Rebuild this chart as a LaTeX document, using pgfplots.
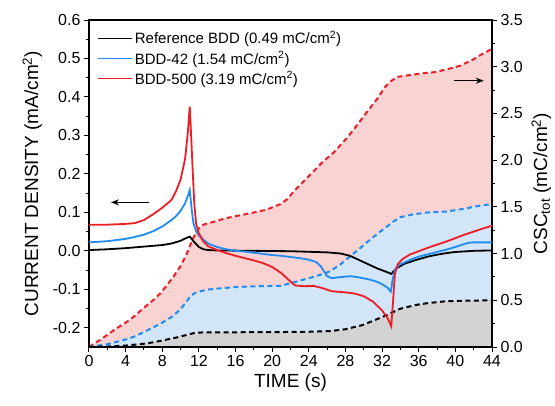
\documentclass[border=0pt]{standalone}
\usepackage{fontspec}
\setmainfont{Liberation Sans}
\usepackage{pgfplots}
\usepackage{pgfplotstable}
\pgfplotsset{compat=1.18}
\usetikzlibrary{arrows.meta}

\definecolor{cred}{HTML}{EE1C25}
\definecolor{cblue}{HTML}{1E8CF0}
\definecolor{fred}{HTML}{F9D2D2}
\definecolor{fblue}{HTML}{D2E5F9}
\definecolor{fgrey}{HTML}{D3D3D3}

% current density transients (mA/cm^2)
\pgfplotstableread{
t j
0 0.068
2 0.068
4 0.070
5 0.072
6 0.080
7 0.095
8 0.112
9 0.132
9.5 0.155
10 0.185
10.5 0.240
10.8 0.310
11.0 0.375
11.15 0.300
11.3 0.220
11.5 0.120
11.7 0.070
12.0 0.045
12.5 0.024
13 0.012
14 0.002
15 -0.006
16 -0.013
17 -0.019
18 -0.025
19 -0.032
20 -0.042
21 -0.058
22 -0.080
22.5 -0.090
23.5 -0.092
24.5 -0.091
25.5 -0.097
26.5 -0.105
28 -0.108
29 -0.111
30 -0.118
31 -0.132
32 -0.155
32.6 -0.175
33.0 -0.196
33.2 -0.130
33.4 -0.060
33.7 -0.035
34.2 -0.022
35 -0.010
36 -0.001
37 0.008
38 0.016
39 0.024
40 0.033
41 0.042
42 0.050
43 0.058
44 0.065
}\jred

\pgfplotstableread{
t j
0 0.022
2 0.025
4 0.031
5 0.036
6 0.042
7 0.051
8 0.063
9 0.080
9.5 0.090
10 0.104
10.5 0.124
10.8 0.143
11.0 0.158
11.2 0.110
11.4 0.072
11.7 0.050
12.1 0.037
13 0.019
14 0.010
15 0.004
16 0.000
17 -0.002
18 -0.005
19 -0.008
20 -0.011
21 -0.013
22 -0.016
23 -0.019
24 -0.023
24.8 -0.029
25.3 -0.040
25.7 -0.055
26.0 -0.066
26.5 -0.071
27.2 -0.069
28.5 -0.066
29.5 -0.069
30.7 -0.075
31.5 -0.081
32.1 -0.088
32.6 -0.096
32.95 -0.106
33.15 -0.075
33.4 -0.049
33.9 -0.036
35 -0.024
36 -0.015
37 -0.009
38 -0.003
39 0.003
40 0.010
41 0.018
41.5 0.021
42 0.022
44 0.022
}\jblue

\pgfplotstableread{
t j
0 0.002
2 0.004
4 0.007
6 0.011
8 0.015
9 0.019
10 0.026
10.5 0.032
11.0 0.037
11.3 0.028
11.6 0.020
12.0 0.010
12.5 0.004
13 0.002
14 0.001
18 0.000
22 -0.001
26 -0.004
27.5 -0.007
28.5 -0.013
29.5 -0.024
30.5 -0.035
31.5 -0.046
32.5 -0.055
33.0 -0.060
33.3 -0.052
33.6 -0.045
34.5 -0.033
35.8 -0.023
37 -0.015
38 -0.010
39 -0.006
40 -0.003
42 0.000
44 0.001
}\jblack

% cumulative charge storage capacity (mC/cm^2)
\pgfplotstableread{
t q
0 0
1.2 0.075
2 0.13
3 0.2
4 0.26
4.9 0.325
6 0.42
7 0.5
7.8 0.576
8.5 0.66
9.2 0.75
9.95 0.86
10.6 0.98
11.1 1.10
11.5 1.19
12.0 1.27
12.5 1.31
13.6 1.34
15 1.38
16.5 1.41
18 1.44
19.4 1.47
20.9 1.53
21.6 1.58
22.5 1.68
24 1.83
25.5 1.98
26.7 2.08
28 2.22
29 2.34
30.3 2.51
31.5 2.66
32.3 2.78
32.9 2.84
33.6 2.89
35 2.91
36.5 2.93
37.6 2.94
39 2.97
40.5 3.01
42 3.08
43 3.14
44 3.19
}\qred

\pgfplotstableread{
t q
0 0
2 0.03
4 0.08
4.9 0.11
6 0.16
7 0.21
7.8 0.25
9 0.32
9.95 0.40
10.6 0.48
11.05 0.54
11.5 0.575
12.1 0.595
13 0.615
14 0.625
15.8 0.64
18 0.65
20.9 0.655
21.9 0.68
23 0.71
24.5 0.75
25.5 0.78
26.3 0.81
27.4 0.88
28.5 0.97
29.5 1.05
30.7 1.15
32 1.25
33.2 1.34
34 1.39
35.4 1.42
37 1.44
39 1.45
41 1.48
42.5 1.51
44 1.53
}\qblue

\pgfplotstableread{
t q
0 0
2 0.005
4 0.015
5 0.025
6 0.035
7 0.05
8.5 0.08
9.5 0.10
10.7 0.13
11.5 0.15
12.1 0.155
14 0.157
17 0.158
20.9 0.16
24 0.163
26.3 0.17
28 0.19
29.9 0.236
31 0.28
32 0.32
32.9 0.36
34 0.41
35.7 0.45
37 0.47
39 0.49
41 0.495
44 0.50
}\qblack

\pgfplotsset{
  common/.style={
    at={(0,0)}, anchor=south west,
    scale only axis, width=403pt, height=327pt,
    xmin=0, xmax=44,
    axis line style={line width=1.2pt},
    tick style={black, line width=1pt},
    major tick length=5pt, minor tick length=3pt,
    tick align=outside,
    ticklabel style={font=\fontsize{16}{19}\selectfont},
    /pgf/number format/assume math mode=true,
  },
  qline/.style={line width=2pt, dash pattern=on 5pt off 3.5pt},
  jline/.style={line width=1.8pt},
}

\begin{document}
\begin{tikzpicture}
\path[use as bounding box] (-89pt,-58pt) rectangle (466pt,347pt);

% right axis: cumulative charge
\begin{axis}[common,
  ymin=0, ymax=3.5,
  xtick=\empty,
  ytick={0,0.5,1,1.5,2,2.5,3,3.5},
  minor y tick num=1,
  ytick pos=right, yticklabel pos=right,
  yticklabel style={/pgf/number format/.cd, fixed, fixed zerofill, precision=1},
  ylabel={CSC\textsubscript{tot} (mC/cm\textsuperscript{2})},
  ylabel near ticks,
  ylabel style={font=\fontsize{19}{22}\selectfont, yshift=-2pt},
]
\addplot[fill=fred, draw=none] table[x=t,y=q] {\qred} \closedcycle;
\addplot[fill=fblue, draw=none] table[x=t,y=q] {\qblue} \closedcycle;
\addplot[fill=fgrey, draw=none] table[x=t,y=q] {\qblack} \closedcycle;
\addplot[qline, cred] table[x=t,y=q] {\qred};
\addplot[qline, cblue] table[x=t,y=q] {\qblue};
\addplot[qline, black] table[x=t,y=q] {\qblack};
\draw[line width=1.2pt, -{Stealth[length=8pt,width=6pt]}] (axis cs:39.8,2.85) -- (axis cs:43.1,2.85);
\end{axis}

% left axis: current density
\begin{axis}[common,
  ymin=-0.25, ymax=0.6,
  xtick={0,4,...,44}, minor x tick num=1,
  xtick pos=bottom,
  ytick={-0.2,-0.1,0,0.1,0.2,0.3,0.4,0.5,0.6},
  minor y tick num=1,
  ytick pos=left,
  yticklabel style={/pgf/number format/.cd, fixed, fixed zerofill, precision=1},
  xlabel={TIME (s)},
  ylabel={CURRENT DENSITY (mA/cm\textsuperscript{2})},
  xlabel style={font=\fontsize{19}{22}\selectfont},
  ylabel style={font=\fontsize{19}{22}\selectfont, yshift=4pt},
  legend style={at={(0.012,0.978)}, anchor=north west, draw=none, fill=none,
    font=\fontsize{15}{18}\selectfont, row sep=2pt},
  legend cell align=left,
  legend image code/.code={\draw[#1] (0pt,0pt) -- (34pt,0pt);},
]
\addplot[jline, black] table[x=t,y=j] {\jblack};
\addlegendentry{Reference BDD (0.49 mC/cm\textsuperscript{2})}
\addplot[jline, cblue] table[x=t,y=j] {\jblue};
\addlegendentry{BDD-42 (1.54 mC/cm\textsuperscript{2})}
\addplot[jline, cred] table[x=t,y=j] {\jred};
\addlegendentry{BDD-500 (3.19 mC/cm\textsuperscript{2})}
\draw[line width=1.2pt, -{Stealth[length=8pt,width=6pt]}] (axis cs:6.5,0.126) -- (axis cs:2.4,0.126);
\end{axis}
\end{tikzpicture}
\end{document}
